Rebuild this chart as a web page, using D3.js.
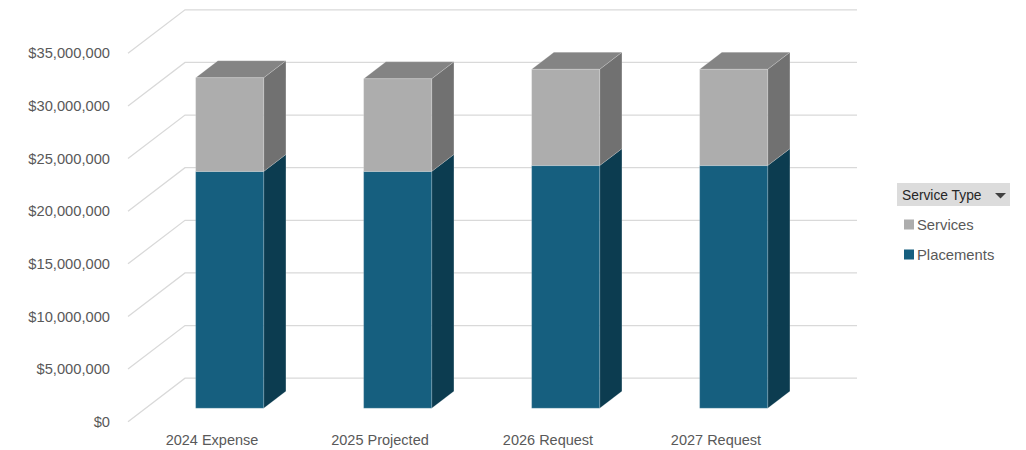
<!DOCTYPE html>
<html>
<head>
<meta charset="utf-8">
<script src="https://cdn.jsdelivr.net/npm/d3@7/dist/d3.min.js"></script>
<style>
html,body{margin:0;padding:0;background:#fff;}
svg{display:block;font-family:"Liberation Sans",Arial,sans-serif;}
</style>
</head>
<body>
<svg id="chart" width="1026" height="450"></svg>
<script>
const categories = ["2024 Expense", "2025 Projected", "2026 Request", "2027 Request"];
const seriesNames = ["Placements", "Services"];
const placements = [22500000, 22500000, 23050000, 23050000];
const services = [8900000, 8800000, 9150000, 9150000];
const yTicks = [0, 5000000, 10000000, 15000000, 20000000, 25000000, 30000000, 35000000];
const legendTitle = "Service Type";

const svg = d3.select("#chart");

// oblique 3D geometry
const depthDX = 57, depthDY = -43.5;
const dFront = 0.31, dBack = 0.70;

const x = d3.scaleBand().domain(categories).range([128, 800]).paddingInner(0.595).paddingOuter(0.2975);
const y = d3.scaleLinear().domain([0, 35000000]).range([421.7, 53.3]);

const proj = (px, v, d) => [px + d * depthDX, y(v) + d * depthDY];

const colors = {
  Placements: {front: "#165f7f", side: "#0c3c50", top: "#1d7196"},
  Services: {front: "#adadad", side: "#717171", top: "#848484"}
};

// gridlines: left wall diagonals + back wall horizontals
const grid = svg.append("g");
yTicks.forEach(t => {
  const a = proj(128, t, 0), b = proj(128, t, 1), c = proj(800, t, 1);
  grid.append("path")
    .attr("d", `M${a[0]},${a[1]}L${b[0]},${b[1]}L${c[0]},${c[1]}`)
    .attr("fill", "none").attr("stroke", "#d9d9d9").attr("stroke-width", 1.3);
});

// y axis labels
const fmt = v => "$" + d3.format(",")(v);
svg.append("g").selectAll("text").data(yTicks).join("text")
  .attr("x", 110).attr("y", d => y(d))
  .attr("dy", "0.35em").attr("text-anchor", "end")
  .attr("font-size", 14.7).attr("fill", "#595959")
  .text(fmt);

// category labels
svg.append("g").selectAll("text").data(categories).join("text")
  .attr("x", d => x(d) + x.bandwidth() / 2)
  .attr("y", 445).attr("text-anchor", "middle")
  .attr("font-size", 14.5).attr("fill", "#595959")
  .text(d => d);

// stacked data
const rows = categories.map((c, i) => ({cat: c, Placements: placements[i], Services: services[i]}));
const stacked = d3.stack().keys(seriesNames)(rows);

const poly = pts => "M" + pts.map(p => p.join(",")).join("L") + "Z";
const bars = svg.append("g");
categories.forEach((c, i) => {
  const x0 = x(c), x1 = x(c) + x.bandwidth();
  stacked.forEach((layer, li) => {
    const v0 = layer[i][0], v1 = layer[i][1];
    const col = colors[layer.key];
    const g = bars.append("g");
    g.append("path").attr("d", poly([proj(x1, v0, dFront), proj(x1, v0, dBack), proj(x1, v1, dBack), proj(x1, v1, dFront)]))
      .attr("fill", col.side).attr("stroke", "rgba(255,255,255,0.22)").attr("stroke-width", 0.8);
    if (li === stacked.length - 1) {
      g.append("path").attr("d", poly([proj(x0, v1, dFront), proj(x0, v1, dBack), proj(x1, v1, dBack), proj(x1, v1, dFront)]))
        .attr("fill", col.top).attr("stroke", "rgba(255,255,255,0.22)").attr("stroke-width", 0.8);
    }
    g.append("path").attr("d", poly([proj(x0, v0, dFront), proj(x1, v0, dFront), proj(x1, v1, dFront), proj(x0, v1, dFront)]))
      .attr("fill", col.front).attr("stroke", "rgba(255,255,255,0.22)").attr("stroke-width", 0.8);
  });
});

// legend
const lg = svg.append("g");
lg.append("rect").attr("x", 897).attr("y", 183).attr("width", 113).attr("height", 23)
  .attr("fill", "#dcdcdc");
lg.append("text").attr("x", 902).attr("y", 199.5).attr("font-size", 13.8).attr("fill", "#262626").text(legendTitle);
lg.append("path").attr("d", "M995,193L1006,193L1000.5,198.5Z").attr("fill", "#404040");
const legendItems = ["Services", "Placements"];
legendItems.forEach((k, i) => {
  const yy = 224.5 + i * 30;
  lg.append("rect").attr("x", 904).attr("y", yy - 5).attr("width", 10).attr("height", 10).attr("fill", colors[k].front);
  lg.append("text").attr("x", 917).attr("y", yy).attr("dy", "0.35em").attr("font-size", 14.8).attr("fill", "#595959").text(k);
});
</script>
</body>
</html>
